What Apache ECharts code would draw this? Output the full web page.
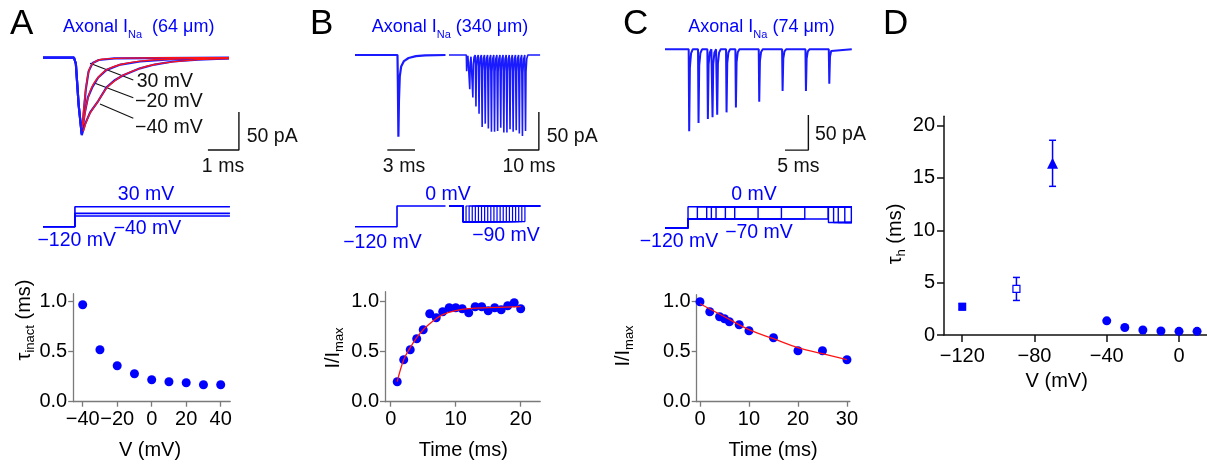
<!DOCTYPE html>
<html>
<head>
<meta charset="utf-8">
<script src="https://cdn.jsdelivr.net/npm/echarts@6/dist/echarts.min.js"></script>
<style>
html, body { margin: 0; padding: 0; background: #fff; }
#chart { width: 1207px; height: 465px; }
</style>
</head>
<body>
<div id="chart"></div>
<script>
// ---------- Panel A: axonal INa at 64 µm, inactivation kinetics ----------
// current traces [time (ms), current (pA)]
const TRACE_A_30 = [[0,0],[1.0,0],[1.06,-8],[1.15,-62],[1.25,-100],[1.3,-78],[1.38,-42],[1.47,-18],[1.6,-7],[1.8,-3],[2.3,-1],[6.0,0]];
const TRACE_A_M20 = [[0,0],[1.0,0],[1.06,-8],[1.15,-62],[1.25,-101],[1.35,-72],[1.45,-52],[1.6,-38],[1.78,-26],[2.05,-16],[2.5,-9],[3.13,-5],[4.2,-2],[6.0,-0.5]];
const TRACE_A_M40 = [[0,0],[1.0,0],[1.06,-8],[1.15,-62],[1.25,-102],[1.35,-88],[1.52,-72],[1.78,-57],[2.05,-39],[2.3,-30],[2.59,-23],[3.13,-14],[3.6,-9],[4.19,-5],[5.0,-2.5],[6.0,-1]];
// single-exponential fits of the decay phase
const FIT_A_30 = [[1.27,-92],[1.32,-65],[1.4,-35],[1.5,-15],[1.65,-6],[1.9,-2],[2.6,-0.5],[6.0,0]];
const FIT_A_M20 = [[1.3,-88],[1.4,-62],[1.52,-44],[1.65,-33],[1.8,-25],[2.05,-16],[2.5,-9],[3.13,-4.5],[4.2,-1.8],[6.0,-0.5]];
const FIT_A_M40 = [[1.3,-97],[1.4,-84],[1.52,-73],[1.78,-57],[2.05,-40],[2.3,-31],[2.59,-23],[3.13,-14],[3.6,-9],[4.19,-5.5],[5.0,-2.5],[6.0,-1]];
// voltage protocol (mV, ms)
const STIM_A_HOLD = -120;
const STIM_A_LEVELS = [30, -20, -40];
const STIM_A_ON = 1.03;
const STIM_A_OFF = 6.03;
// tau of inactivation vs test potential
const A_V = [-40, -30, -20, -10, 0, 10, 20, 30, 40];
const A_TAU = [0.97, 0.52, 0.36, 0.28, 0.22, 0.20, 0.19, 0.17, 0.17];

// ---------- Panel B: axonal INa at 340 µm, recovery from inactivation ----------
const TRACE_B1 = [[0,0],[4.6,0],[4.64,-35],[4.7,-107.5],[4.76,-60],[4.85,-28],[5.0,-15],[5.3,-8],[5.8,-4],[6.6,-1.5],[7.6,-0.5],[9.8,0]];
const PEAK_B_PA = 107.5;
const B_T = [1, 2, 3, 4, 5, 6, 7, 8, 9, 10, 11, 12, 13, 14, 15, 16, 17, 18, 19, 20];
const B_I = [0.20, 0.42, 0.52, 0.63, 0.72, 0.88, 0.84, 0.90, 0.94, 0.94, 0.93, 0.89, 0.95, 0.95, 0.91, 0.94, 0.92, 0.96, 0.99, 0.93];
const FIT_B_T = [1, 2, 3, 4, 5, 6, 7, 8, 10, 12, 15, 20];
const FIT_B_I = [0.20, 0.42, 0.54, 0.64, 0.72, 0.78, 0.83, 0.87, 0.91, 0.93, 0.94, 0.95];
const STIM_B_HOLD = -120;
const STIM_B_STEP = 0;
const STIM_B_ON = 4.55;
const STIM_B_RECOVERY = -90;
const STIM_B_TRAIN_ON = 4.5;

// ---------- Panel C: axonal INa at 74 µm, development of inactivation ----------
const PEAK_C_PA = 117;
const C_T = [0, 2, 4, 5, 6, 8, 10, 15, 20, 25, 30];
const C_I = [1.00, 0.90, 0.85, 0.83, 0.80, 0.77, 0.71, 0.64, 0.51, 0.51, 0.42];
const FIT_C_T = [0, 5, 10, 15, 20, 25, 30];
const FIT_C_I = [0.98, 0.85, 0.72, 0.63, 0.54, 0.48, 0.42];
const STIM_C_HOLD = -120;
const STIM_C_PRE = -70;
const STIM_C_TEST = 0;
const STIM_C_ON = 4.93;
const STIM_C_TAIL = -90;
const STIM_C_TAIL_T = [35.0, 36.1, 37.1, 38.5, 39.9];

// ---------- Panel D: tau_h vs membrane potential ----------
const D_V_CIRCLE = [-40, -30, -20, -10, 0, 10];
const D_TAU_CIRCLE = [1.35, 0.72, 0.48, 0.38, 0.35, 0.35];
const D_SQUARE = [-120, 2.7, 0.3];      // V, tau, SEM
const D_OPEN_SQUARE = [-90, 4.4, 1.1];
const D_TRIANGLE = [-70, 16.4, 2.2];

// ---------- styling ----------
const BLUE = '#0000ff';
const TRACE_BLUE = '#1a1aff';
const RED = '#ff1414';
const GREY_AXIS = '#7a7a7a';
const FONT = '"Liberation Sans", Arial, sans-serif';
const TICK_FS = 20;
const minus = s => String(s).replace('-', '\u2212');

const zip = (a, b) => a.map((v, i) => [v, b[i]]);

// ---------- helpers ----------
const grids = [], xAxes = [], yAxes = [], series = [];

function addGrid(box, xr, yr, xAxisExtra, yAxisExtra) {
  const i = grids.length;
  grids.push({ left: box[0], top: box[1], width: box[2], height: box[3], containLabel: false });
  xAxes.push(Object.assign({ gridIndex: i, type: 'value', min: xr[0], max: xr[1], show: false, splitLine: { show: false } }, xAxisExtra || {}));
  yAxes.push(Object.assign({ gridIndex: i, type: 'value', min: yr[0], max: yr[1], show: false, splitLine: { show: false } }, yAxisExtra || {}));
  return i;
}

function visAxis(ticks, fmt, color, tickLen, margin, lineW) {
  return {
    show: true,
    axisLine: { show: true, onZero: false, lineStyle: { color: color, width: lineW } },
    axisTick: { show: true, inside: false, length: tickLen, customValues: ticks, lineStyle: { color: color, width: lineW } },
    axisLabel: { show: true, customValues: ticks, formatter: fmt, color: '#000', fontSize: TICK_FS, fontFamily: FONT, margin: margin },
    splitLine: { show: false }
  };
}

function line(g, data, color, width, z, smooth) {
  series.push({
    type: 'line', xAxisIndex: g, yAxisIndex: g, data: data, symbol: 'none', showSymbol: false,
    lineStyle: { color: color, width: width }, smooth: smooth || false, z: z || 2,
    animation: false, silent: true, clip: false
  });
}

function scatter(g, data, size, z) {
  series.push({
    type: 'scatter', xAxisIndex: g, yAxisIndex: g, data: data, symbol: 'circle', symbolSize: size,
    itemStyle: { color: BLUE, opacity: 1 }, z: z || 3, animation: false, silent: true
  });
}

// spike train built from measured relative amplitudes
function spikeTrain(times, rel, peak, start, latency, end) {
  const pts = [[0, 0]];
  times.forEach((t, k) => {
    const ts = start + t + latency, a = rel[k] * peak;
    pts.push([ts - 0.06, 0], [ts + 0.05, -a], [ts + 0.2, -0.22 * a], [ts + 0.45, -0.05 * a], [ts + 0.8, 0]);
  });
  pts.push([end, 0]);
  return pts;
}

// ---------- Panel A ----------
const gAt = addGrid([43, 42.5, 204.6, 114], [0, 6.6], [-130, 20]);
line(gAt, TRACE_A_M40, TRACE_BLUE, 2.2);
line(gAt, TRACE_A_M20, TRACE_BLUE, 2.2);
line(gAt, TRACE_A_30, TRACE_BLUE, 2.2);
line(gAt, FIT_A_M40, RED, 1.4, 3, 0.3);
line(gAt, FIT_A_M20, RED, 1.4, 3, 0.3);
line(gAt, FIT_A_30, RED, 1.4, 3, 0.3);
// scale bar: 1 ms, 50 pA
line(gAt, [[5.32, -121.4], [6.32, -121.4], [6.32, -71.4]], '#111', 1.4);

const gAs = addGrid([43, 205.37, 204.6, 22.67], [0, 6.6], [-130, 40]);
STIM_A_LEVELS.forEach(v => line(gAs, [[0, STIM_A_HOLD], [STIM_A_ON, STIM_A_HOLD], [STIM_A_ON, v], [STIM_A_OFF, v]], BLUE, 1.6));

const gAp = addGrid([73.2, 293.7, 157, 108], [-45.5, 45.5], [0, 1.08],
  visAxis([-40, -20, 0, 20, 40], v => minus(v), GREY_AXIS, 5, 8, 1.3),
  visAxis([0, 0.5, 1.0], v => v.toFixed(1), GREY_AXIS, 5, 6, 1.3));
scatter(gAp, zip(A_V, A_TAU), 9);

// ---------- Panel B ----------
const gB1 = addGrid([355, 39.8, 90.5, 114], [0, 9.8], [-130, 20]);
line(gB1, TRACE_B1, TRACE_BLUE, 2.2);
line(gB1, [[3.5, -125], [6.5, -125]], '#111', 1.4);

const gB2 = addGrid([449, 39.8, 91.1, 114], [0, 29.4], [-130, 20]);
line(gB2, spikeTrain(B_T, B_I, PEAK_B_PA, STIM_B_TRAIN_ON, 0.15, 29.4), TRACE_BLUE, 1.6);
line(gB2, [[19, -125], [29, -125], [29, -75]], '#111', 1.4);

const gBs1 = addGrid([355, 202.55, 90.5, 25.9], [0, 9.8], [-130, 20]);
line(gBs1, [[0, STIM_B_HOLD], [STIM_B_ON, STIM_B_HOLD], [STIM_B_ON, STIM_B_STEP], [9.8, STIM_B_STEP]], BLUE, 1.6);

const gBs2 = addGrid([449, 202.55, 91.1, 25.9], [0, 29.4], [-130, 20]);
B_T.forEach(dt => line(gBs2, [[0, STIM_B_STEP], [STIM_B_TRAIN_ON, STIM_B_STEP], [STIM_B_TRAIN_ON, STIM_B_RECOVERY],
  [STIM_B_TRAIN_ON + dt, STIM_B_RECOVERY], [STIM_B_TRAIN_ON + dt, STIM_B_STEP], [29.4, STIM_B_STEP]], BLUE, 1.2));

const gBp = addGrid([385, 291.7, 155.2, 110], [-0.88, 23], [0, 1.1],
  visAxis([0, 10, 20], v => minus(v), GREY_AXIS, 5, 8, 1.3),
  visAxis([0, 0.5, 1.0], v => v.toFixed(1), GREY_AXIS, 5, 6, 1.3));
line(gBp, zip(FIT_B_T, FIT_B_I), RED, 1.3, 4, 0.4);
scatter(gBp, zip(B_T, B_I), 9);

// ---------- Panel C ----------
const gCt = addGrid([665, 38.8, 186.8, 115.5], [0, 40], [-150, 15]);
line(gCt, spikeTrain(C_T, C_I, PEAK_C_PA, STIM_C_ON, 0.2, 40), TRACE_BLUE, 2);
line(gCt, [[25.7, -144], [30.7, -144], [30.7, -94]], '#111', 1.4);

const gCs = addGrid([665, 203.2, 186.8, 26.25], [0, 40], [-130, 20]);
C_T.forEach(dt => line(gCs, [[0, STIM_C_HOLD], [STIM_C_ON, STIM_C_HOLD], [STIM_C_ON, STIM_C_PRE],
  [STIM_C_ON + dt, STIM_C_PRE], [STIM_C_ON + dt, STIM_C_TEST], [40, STIM_C_TEST]], BLUE, 1.4));
STIM_C_TAIL_T.forEach(t => line(gCs, [[t, STIM_C_TEST], [t, STIM_C_TAIL], [40, STIM_C_TAIL]], BLUE, 1.4));

const gCp = addGrid([696.7, 294.7, 153.2, 107], [-0.67, 30.6], [0, 1.07],
  visAxis([0, 10, 20, 30], v => minus(v), GREY_AXIS, 5, 8, 1.3),
  visAxis([0, 0.5, 1.0], v => v.toFixed(1), GREY_AXIS, 5, 6, 1.3));
line(gCp, zip(FIT_C_T, FIT_C_I), RED, 1.3, 4, 0.4);
scatter(gCp, zip(C_T, C_I), 9);

// ---------- Panel D ----------
const gD = addGrid([944, 116.2, 263, 218.8], [-130.1, 15.5], [0, 20.9],
  visAxis([-120, -80, -40, 0], v => minus(v), '#111', 7, 11, 1.5),
  visAxis([0, 5, 10, 15, 20], v => String(v), '#111', 7, 9, 1.5));
series.push({
  type: 'custom', xAxisIndex: gD, yAxisIndex: gD, data: [D_SQUARE, D_OPEN_SQUARE, D_TRIANGLE],
  encode: { x: 0, y: 1 }, z: 2, animation: false, silent: true,
  renderItem: (params, api) => {
    const x = api.value(0), y = api.value(1), e = api.value(2);
    const hi = api.coord([x, y + e]), lo = api.coord([x, y - e]);
    const cap = 3.5, st = { stroke: BLUE, lineWidth: 1.5 };
    return {
      type: 'group', children: [
        { type: 'line', shape: { x1: hi[0], y1: hi[1], x2: lo[0], y2: lo[1] }, style: st },
        { type: 'line', shape: { x1: hi[0] - cap, y1: hi[1], x2: hi[0] + cap, y2: hi[1] }, style: st },
        { type: 'line', shape: { x1: lo[0] - cap, y1: lo[1], x2: lo[0] + cap, y2: lo[1] }, style: st }
      ]
    };
  }
});
series.push({ type: 'scatter', xAxisIndex: gD, yAxisIndex: gD, data: [D_SQUARE.slice(0, 2)], symbol: 'rect', symbolSize: 8,
  itemStyle: { color: BLUE, opacity: 1 }, z: 3, animation: false, silent: true });
series.push({ type: 'scatter', xAxisIndex: gD, yAxisIndex: gD, data: [D_OPEN_SQUARE.slice(0, 2)], symbol: 'rect', symbolSize: 7,
  itemStyle: { color: '#fff', borderColor: BLUE, borderWidth: 1.2, opacity: 1 }, z: 3, animation: false, silent: true });
series.push({ type: 'scatter', xAxisIndex: gD, yAxisIndex: gD, data: [D_TRIANGLE.slice(0, 2)], symbol: 'triangle', symbolSize: 11,
  itemStyle: { color: BLUE, opacity: 1 }, z: 3, animation: false, silent: true });
scatter(gD, zip(D_V_CIRCLE, D_TAU_CIRCLE), 9);

// ---------- text annotations ----------
const measureCtx = document.createElement('canvas').getContext('2d');
function textWidth(s, size) { measureCtx.font = size + 'px "Liberation Sans"'; return measureCtx.measureText(s).width; }

function txt(s, x, y, size, color, align) {
  return {
    type: 'text', x: x, y: y, silent: true,
    style: {
      text: s, fill: color, fontSize: size, fontFamily: FONT,
      align: align || 'left', verticalAlign: 'middle', textAlign: align || 'left', textVerticalAlign: 'middle'
    }
  };
}

// text with a subscript part; parts = [[string, isSub], ...]
function subText(parts, x, y, size, subSize, subDy, color, anchor, rotated) {
  const widths = parts.map(p => textWidth(p[0], p[1] ? subSize : size));
  const total = widths.reduce((a, b) => a + b, 0);
  let cx = anchor === 'center' ? -total / 2 : 0;
  const children = parts.map((p, k) => {
    const el = txt(p[0], cx, p[1] ? subDy : 0, p[1] ? subSize : size, color, 'left');
    cx += widths[k];
    return el;
  });
  return { type: 'group', x: x, y: y, rotation: rotated ? Math.PI / 2 : 0, children: children, silent: true };
}

function seg(x1, y1, x2, y2, color, w) {
  return { type: 'line', silent: true, shape: { x1: x1, y1: y1, x2: x2, y2: y2 }, style: { stroke: color, lineWidth: w } };
}

const LBL = 19.5;
const graphics = [
  // panel letters
  txt('A', 10, 24.5, 35, '#000'), txt('B', 310, 24.5, 35, '#000'),
  txt('C', 623, 24.5, 35, '#000'), txt('D', 883, 24.5, 35, '#000'),
  // recording titles
  subText([['Axonal I', false], ['Na', true], ['  (64 \u03bcm)', false]], 63, 27, 18, 11, 8, BLUE, 'left'),
  subText([['Axonal I', false], ['Na', true], [' (340 \u03bcm)', false]], 371.7, 27, 18, 11, 8, BLUE, 'left'),
  subText([['Axonal I', false], ['Na', true], [' (74 \u03bcm)', false]], 688.3, 27, 18, 11, 8, BLUE, 'left'),
  // panel A trace labels
  txt('30 mV', 136.7, 81.7, LBL, '#111'), txt('\u221220 mV', 135, 101.7, LBL, '#111'), txt('\u221240 mV', 135, 128, LBL, '#111'),
  seg(90, 63.3, 133.3, 80, '#111', 1.1), seg(95, 83.3, 133.3, 97.7, '#111', 1.1), seg(100, 104, 133.3, 118.3, '#111', 1.1),
  // scale bar labels
  txt('50 pA', 246.7, 136.7, LBL, '#111'), txt('1 ms', 223, 166.7, LBL, '#111', 'center'),
  txt('50 pA', 546.7, 136.7, LBL, '#111'), txt('3 ms', 404, 166.7, LBL, '#111', 'center'), txt('10 ms', 529, 166.7, LBL, '#111', 'center'),
  txt('50 pA', 815, 135, LBL, '#111'), txt('5 ms', 798.3, 166.7, LBL, '#111', 'center'),
  // protocol labels
  txt('30 mV', 146, 195, LBL, BLUE, 'center'), txt('\u221240 mV', 147.5, 229, LBL, BLUE, 'center'), txt('\u2212120 mV', 76.7, 240.7, LBL, BLUE, 'center'),
  txt('0 mV', 448, 195, LBL, BLUE, 'center'), txt('\u2212120 mV', 382.5, 242.5, LBL, BLUE, 'center'), txt('\u221290 mV', 506, 235.5, LBL, BLUE, 'center'),
  txt('0 mV', 754, 195, LBL, BLUE, 'center'), txt('\u221270 mV', 759, 232.5, LBL, BLUE, 'center'), txt('\u2212120 mV', 679, 241.5, LBL, BLUE, 'center'),
  // axis titles
  txt('V (mV)', 150, 450.5, TICK_FS, '#000', 'center'),
  txt('Time (ms)', 463.3, 450.5, TICK_FS, '#000', 'center'),
  txt('Time (ms)', 773, 450.5, TICK_FS, '#000', 'center'),
  txt('V (mV)', 1056.7, 381, TICK_FS, '#000', 'center'),
  subText([['\u03c4', false], ['inact', true], [' (ms)', false]], 24, 320, TICK_FS, 13, 6, '#000', 'center', true),
  subText([['I/I', false], ['max', true]], 333, 348, TICK_FS, 13, 6, '#000', 'center', true),
  subText([['I/I', false], ['max', true]], 623, 346, TICK_FS, 13, 6, '#000', 'center', true),
  subText([['\u03c4', false], ['h', true], [' (ms)', false]], 895, 234, TICK_FS, 13, 6, '#000', 'center', true)
];

const chart = echarts.init(document.getElementById('chart'), null, { renderer: 'canvas' });
chart.setOption({
  backgroundColor: '#fff',
  animation: false,
  grid: grids,
  xAxis: xAxes,
  yAxis: yAxes,
  series: series,
  graphic: { elements: graphics }
});
</script>
</body>
</html>
